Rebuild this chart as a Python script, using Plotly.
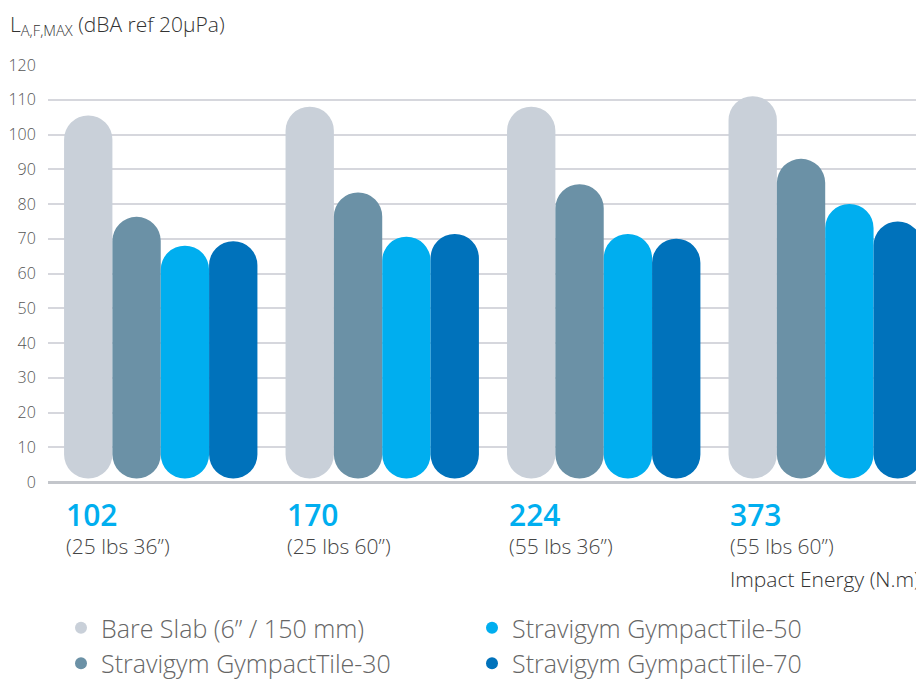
import plotly.graph_objects as go

categories = ["102", "170", "224", "373"]
sublabels = ["(25 lbs 36\u201d)", "(25 lbs 60\u201d)", "(55 lbs 36\u201d)", "(55 lbs 60\u201d)"]
series_names = ["Bare Slab (6\u201d / 150 mm)", "Stravigym GympactTile-30",
                "Stravigym GympactTile-50", "Stravigym GympactTile-70"]
bare_slab = [105.5, 108, 108, 111]
tile_30 = [76.3, 83.3, 85.7, 93]
tile_50 = [68, 70.6, 71.4, 80]
tile_70 = [69.3, 71.4, 70, 75]
series_values = [bare_slab, tile_30, tile_50, tile_70]
colors = ["#c9d0d9", "#6b91a6", "#00aeef", "#0072bb"]
legend_rank = [1, 3, 2, 4]
y_ticks = [0, 10, 20, 30, 40, 50, 60, 70, 80, 90, 100, 110, 120]

PILL_BOTTOM = 1.0
FONT = "Open Sans"
cat_idx = list(range(len(categories)))

# the page has an 8px body margin; layout is expressed in page pixels
OFF = 8
PLOT_TOP, PLOT_BOTTOM, PLOT_LEFT = 65, 482, 48
PLOT_H = PLOT_BOTTOM - PLOT_TOP
PLOT_W = 924 - PLOT_LEFT
FIG_W, FIG_H = 924 - OFF, 680 - OFF


def py(page_y):
    return (PLOT_BOTTOM - page_y) / PLOT_H


def px(page_x):
    return (page_x - PLOT_LEFT) / PLOT_W


fig = go.Figure()
for name, vals, col in zip(series_names, series_values, colors):
    fig.add_trace(go.Bar(
        x=cat_idx, y=[v - PILL_BOTTOM for v in vals], base=[PILL_BOTTOM] * len(vals),
        marker=dict(color=col, cornerradius="50%", line=dict(width=0)),
        offsetgroup=name, showlegend=False, hoverinfo="skip"))

for name, col, rank in zip(series_names, colors, legend_rank):
    fig.add_trace(go.Scatter(
        x=[None], y=[None], mode="markers", name=name,
        marker=dict(color=col, size=16, symbol="circle"),
        legendrank=rank))

annotations = []
for i, (cat, sub) in enumerate(zip(categories, sublabels)):
    annotations.append(dict(
        x=i, xref="x", xshift=-97, xanchor="left",
        y=py(514), yref="paper", yanchor="middle",
        text=cat, showarrow=False,
        font=dict(family=FONT, size=30, color="#00aeef", weight=600)))
    annotations.append(dict(
        x=i, xref="x", xshift=-97, xanchor="left",
        y=py(546), yref="paper", yanchor="middle",
        text=sub, showarrow=False,
        font=dict(family=FONT, size=21, color="#444444", weight=300)))

annotations.append(dict(
    x=px(728), xref="paper", xanchor="left",
    y=py(579), yref="paper", yanchor="middle",
    text="Impact Energy (N.m)", showarrow=False,
    font=dict(family=FONT, size=21, color="#333333", weight=300)))

annotations.append(dict(
    x=px(8), xref="paper", xanchor="left",
    y=py(25), yref="paper", yanchor="middle",
    text="L<sub>A,F,MAX</sub> (dBA ref 20\u03bcPa)", showarrow=False,
    font=dict(family=FONT, size=21, color="#333333", weight=300)))

fig.update_layout(
    width=FIG_W, height=FIG_H,
    margin=dict(l=PLOT_LEFT - OFF, r=0, t=PLOT_TOP - OFF, b=680 - PLOT_BOTTOM,
                autoexpand=False),
    paper_bgcolor="white", plot_bgcolor="white",
    barmode="group", bargap=0.127, bargroupgap=0,
    font=dict(family=FONT, color="#555555"),
    showlegend=True,
    legend=dict(
        orientation="h", x=px(61), xanchor="left",
        y=py(605), yanchor="top",
        entrywidth=366, entrywidthmode="pixels",
        traceorder="normal",
        font=dict(family=FONT, size=25, color="#666666", weight=300),
        itemsizing="constant", tracegroupgap=0,
        bgcolor="rgba(0,0,0,0)"),
    annotations=annotations,
)

fig.update_xaxes(
    type="linear", range=[-0.509, 3.446], showticklabels=False, showgrid=False,
    zeroline=False, showline=False, fixedrange=True)
fig.update_yaxes(
    range=[0, 120], tickvals=y_ticks, ticktext=[str(t) for t in y_ticks],
    showgrid=True, gridcolor="#d6d7dd", gridwidth=1.5,
    zeroline=True, zerolinecolor="#c3c6cb", zerolinewidth=3,
    showline=False, ticks="outside", ticklen=8, tickcolor="rgba(0,0,0,0)",
    tickfont=dict(family=FONT, size=16, color="#555555", weight=300),
    fixedrange=True)

fig.write_html("out.html")
